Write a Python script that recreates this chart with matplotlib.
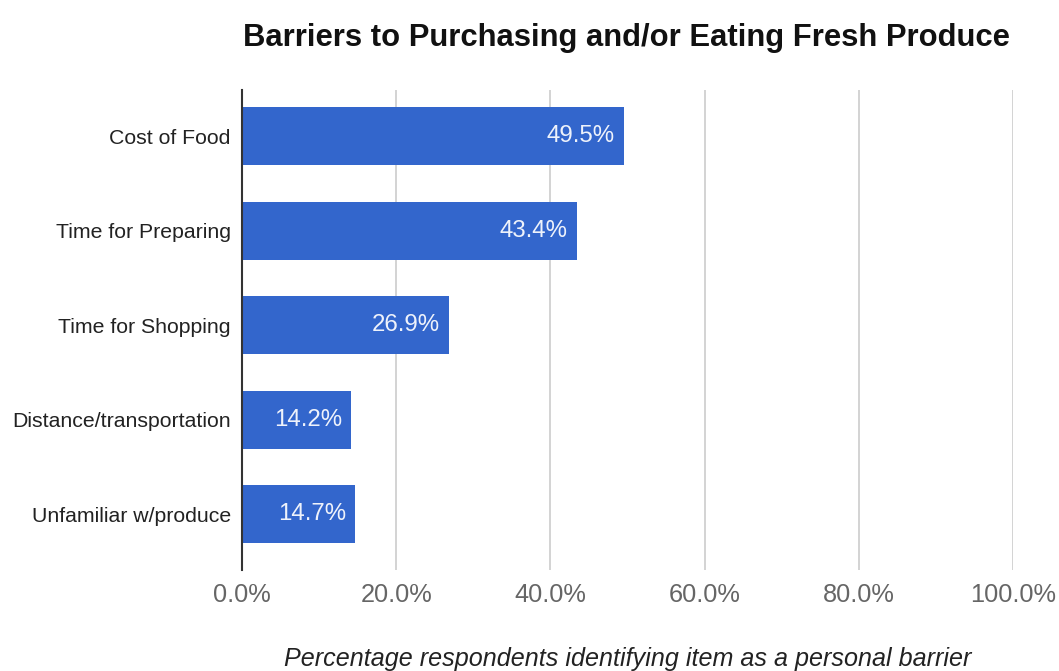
import matplotlib
matplotlib.use("Agg")
import matplotlib.pyplot as plt

plt.rcParams['font.family'] = ['Liberation Sans', 'DejaVu Sans']

categories = ["Cost of Food", "Time for Preparing", "Time for Shopping",
              "Distance/transportation", "Unfamiliar w/produce"]
values = [49.5, 43.4, 26.9, 14.2, 14.7]
ticks = [0, 20, 40, 60, 80, 100]
tick_labels = ["0.0%", "20.0%", "40.0%", "60.0%", "80.0%", "100.0%"]

fig = plt.figure(figsize=(10.59, 6.71), dpi=100)
ax = fig.add_axes([0.2285, 0.1505, 0.728, 0.7154])

pos = list(range(len(categories)))
bars = ax.barh(pos, values, height=0.61, color="#3366cc", zorder=3)
for y, v in zip(pos, values):
    ax.text(v - 1.2, y, f"{v:.1f}%", ha="right", va="center",
            color="#eef2fb", fontsize=17.3, zorder=4)

ax.set_xlim(0, 100)
ax.set_ylim(4.59, -0.49)
ax.set_yticks(pos)
ax.set_yticklabels(categories, fontsize=15.3, color="#222222")
ax.set_xticks(ticks)
ax.set_xticklabels(tick_labels, fontsize=18.3, color="#666666")
ax.tick_params(axis="y", length=0, pad=8)
ax.tick_params(axis="x", length=0, pad=9)
ax.grid(axis="x", color="#cccccc", linewidth=1.2, zorder=0)
for s in ["top", "right", "bottom"]:
    ax.spines[s].set_visible(False)
ax.spines["left"].set_color("#333333")
ax.spines["left"].set_linewidth(1.5)
ax.spines["left"].set_zorder(5)

ax.set_xlabel("Percentage respondents identifying item as a personal barrier",
              fontsize=18.1, style="italic", color="#222222", labelpad=29)
fig.text(0.5918, 0.944, "Barriers to Purchasing and/or Eating Fresh Produce",
         ha="center", va="center", fontsize=22.3, fontweight="bold", color="#111111")

fig.savefig("out.png", dpi=100)
